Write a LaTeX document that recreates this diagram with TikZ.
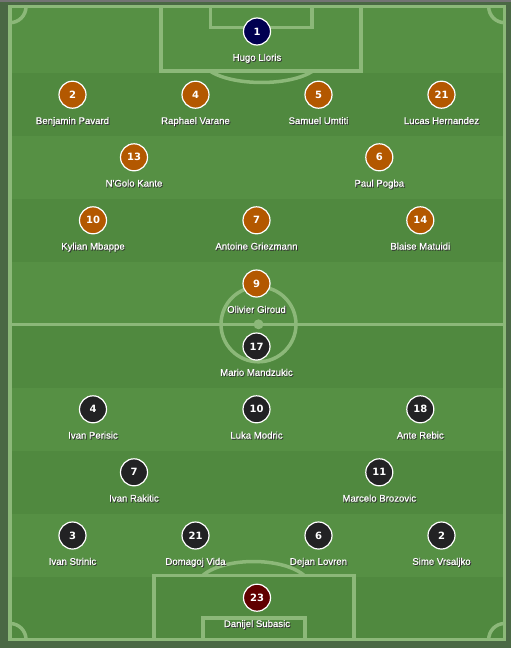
\documentclass[tikz,border=0pt]{standalone}
\usepackage{fontspec}
\setmainfont{Liberation Sans}
\newfontfamily\numfont{DejaVu Sans}
\newfontfamily\namefont{Liberation Sans}[FakeBold=0.4]
\usepackage{tikz}

\definecolor{outside}{RGB}{74,104,68}
\definecolor{grasslight}{RGB}{86,144,68}
\definecolor{grassdark}{RGB}{80,137,63}
\definecolor{chalk}{RGB}{140,184,121}
\definecolor{france}{RGB}{179,88,0}
\definecolor{frakeeper}{RGB}{0,0,80}
\definecolor{croatia}{RGB}{34,34,36}
\definecolor{crokeeper}{RGB}{96,0,0}

\newcommand{\shd}[1]{\makebox[0pt][l]{\hspace{0.9pt}\raisebox{-0.9pt}{\textcolor{black!80}{#1}}}#1}

\begin{document}
\begin{tikzpicture}[x=1pt, y=1pt,
        pitchline/.style={draw=chalk, line width=3.5pt},
        shirt/.style={circle, draw=white, line width=1.2pt, minimum size=27pt, inner sep=0pt, text=white, font=\numfont\bfseries\fontsize{10}{12}\selectfont},
        plname/.style={text=white, inner sep=0pt, text height=7pt, text depth=2pt, label distance=8pt, font=\namefont\fontsize{9.6}{11}\selectfont},
        fra/.style={shirt, fill=france},
        cro/.style={shirt, fill=croatia}]
        \useasboundingbox (0,0) rectangle (511,-648);
        \fill[outside] (0,0) rectangle (511,-648);
        \fill[black!55] (0,0) rectangle (511,-1.5);

        \fill[grassdark] (10,-6.7) rectangle (504.7,-639.5);
        \fill[grasslight] (10,-6.7) rectangle (504.7,-72.7);
        \fill[grasslight] (10,-135.7) rectangle (504.7,-198.7);
        \fill[grasslight] (10,-261.7) rectangle (504.7,-324.7);
        \fill[grasslight] (10,-387.7) rectangle (504.7,-450.7);
        \fill[grasslight] (10,-513.7) rectangle (504.7,-576.7);

        \draw[pitchline] (10,-6.7) rectangle (504.7,-639.5);
        \draw[pitchline] (10,-324.3) -- (504.7,-324.3);
        \draw[pitchline] (258.5,-324.3) circle[radius=37.5];
        \fill[chalk] (258.5,-324.3) circle[radius=5];

        \draw[pitchline] (161,-6.7) |- (361,-71) -- (361,-6.7);
        \draw[pitchline] (210.5,-6.7) |- (312,-27.7) -- (312,-6.7);
        \draw[pitchline] (210,-71) arc[start angle=209.3, end angle=330.7, x radius=59, y radius=22.5];

        \draw[pitchline] (154,-639.5) |- (354,-575.3) -- (354,-639.5);
        \draw[pitchline] (203,-639.5) |- (305,-618) -- (305,-639.5);
        \draw[pitchline] (304,-575.3) arc[start angle=26.6, end angle=153.4, x radius=56.5, y radius=25];

        \draw[pitchline] (26,-6.7) arc[start angle=0, end angle=-90, radius=16];
        \draw[pitchline] (488.7,-6.7) arc[start angle=180, end angle=270, radius=16];
        \draw[pitchline] (26,-639.5) arc[start angle=0, end angle=90, radius=16];
        \draw[pitchline] (488.7,-639.5) arc[start angle=180, end angle=90, radius=16];

        \node[shirt, fill=frakeeper, label={[plname]below:\shd{Hugo Lloris}}] (f1) at (257,-31.5) {1};
        \node[fra, label={[plname]below:\shd{Benjamin Pavard}}] (f2) at (72.5,-94.7) {2};
        \node[fra, label={[plname]below:\shd{Raphael Varane}}] (f4) at (195.5,-94.7) {4};
        \node[fra, label={[plname]below:\shd{Samuel Umtiti}}] (f5) at (318.5,-94.7) {5};
        \node[fra, label={[plname]below:\shd{Lucas Hernandez}}] (f21) at (441.5,-94.7) {21};
        \node[fra, label={[plname]below:\shd{N'Golo Kante}}] (f13) at (134,-157.3) {13};
        \node[fra, label={[plname]below:\shd{Paul Pogba}}] (f6) at (379.3,-157.3) {6};
        \node[fra, label={[plname]below:\shd{Kylian Mbappe}}] (f10) at (93,-220.3) {10};
        \node[fra, label={[plname]below:\shd{Antoine Griezmann}}] (f7) at (256.5,-220.3) {7};
        \node[fra, label={[plname]below:\shd{Blaise Matuidi}}] (f14) at (420.3,-220.3) {14};
        \node[fra, label={[plname]below:\shd{Olivier Giroud}}] (f9) at (256.5,-283.5) {9};

        \node[cro, label={[plname]below:\shd{Mario Mandzukic}}] (c17) at (256.5,-346.5) {17};
        \node[cro, label={[plname]below:\shd{Ivan Perisic}}] (c4) at (93,-409.3) {4};
        \node[cro, label={[plname]below:\shd{Luka Modric}}] (c10) at (256.5,-409.3) {10};
        \node[cro, label={[plname]below:\shd{Ante Rebic}}] (c18) at (420.3,-409.3) {18};
        \node[cro, label={[plname]below:\shd{Ivan Rakitic}}] (c7) at (134,-472.3) {7};
        \node[cro, label={[plname]below:\shd{Marcelo Brozovic}}] (c11) at (379.3,-472.3) {11};
        \node[cro, label={[plname]below:\shd{Ivan Strinic}}] (c3) at (72.5,-535.5) {3};
        \node[cro, label={[plname]below:\shd{Domagoj Vida}}] (c21) at (195.5,-535.5) {21};
        \node[cro, label={[plname]below:\shd{Dejan Lovren}}] (c6) at (318.5,-535.5) {6};
        \node[cro, label={[plname]below:\shd{Sime Vrsaljko}}] (c2) at (441.5,-535.5) {2};
        \node[shirt, fill=crokeeper, label={[plname]below:\shd{Danijel Subasic}}] (c23) at (257,-597.7) {23};
    \end{tikzpicture}
\end{document}
